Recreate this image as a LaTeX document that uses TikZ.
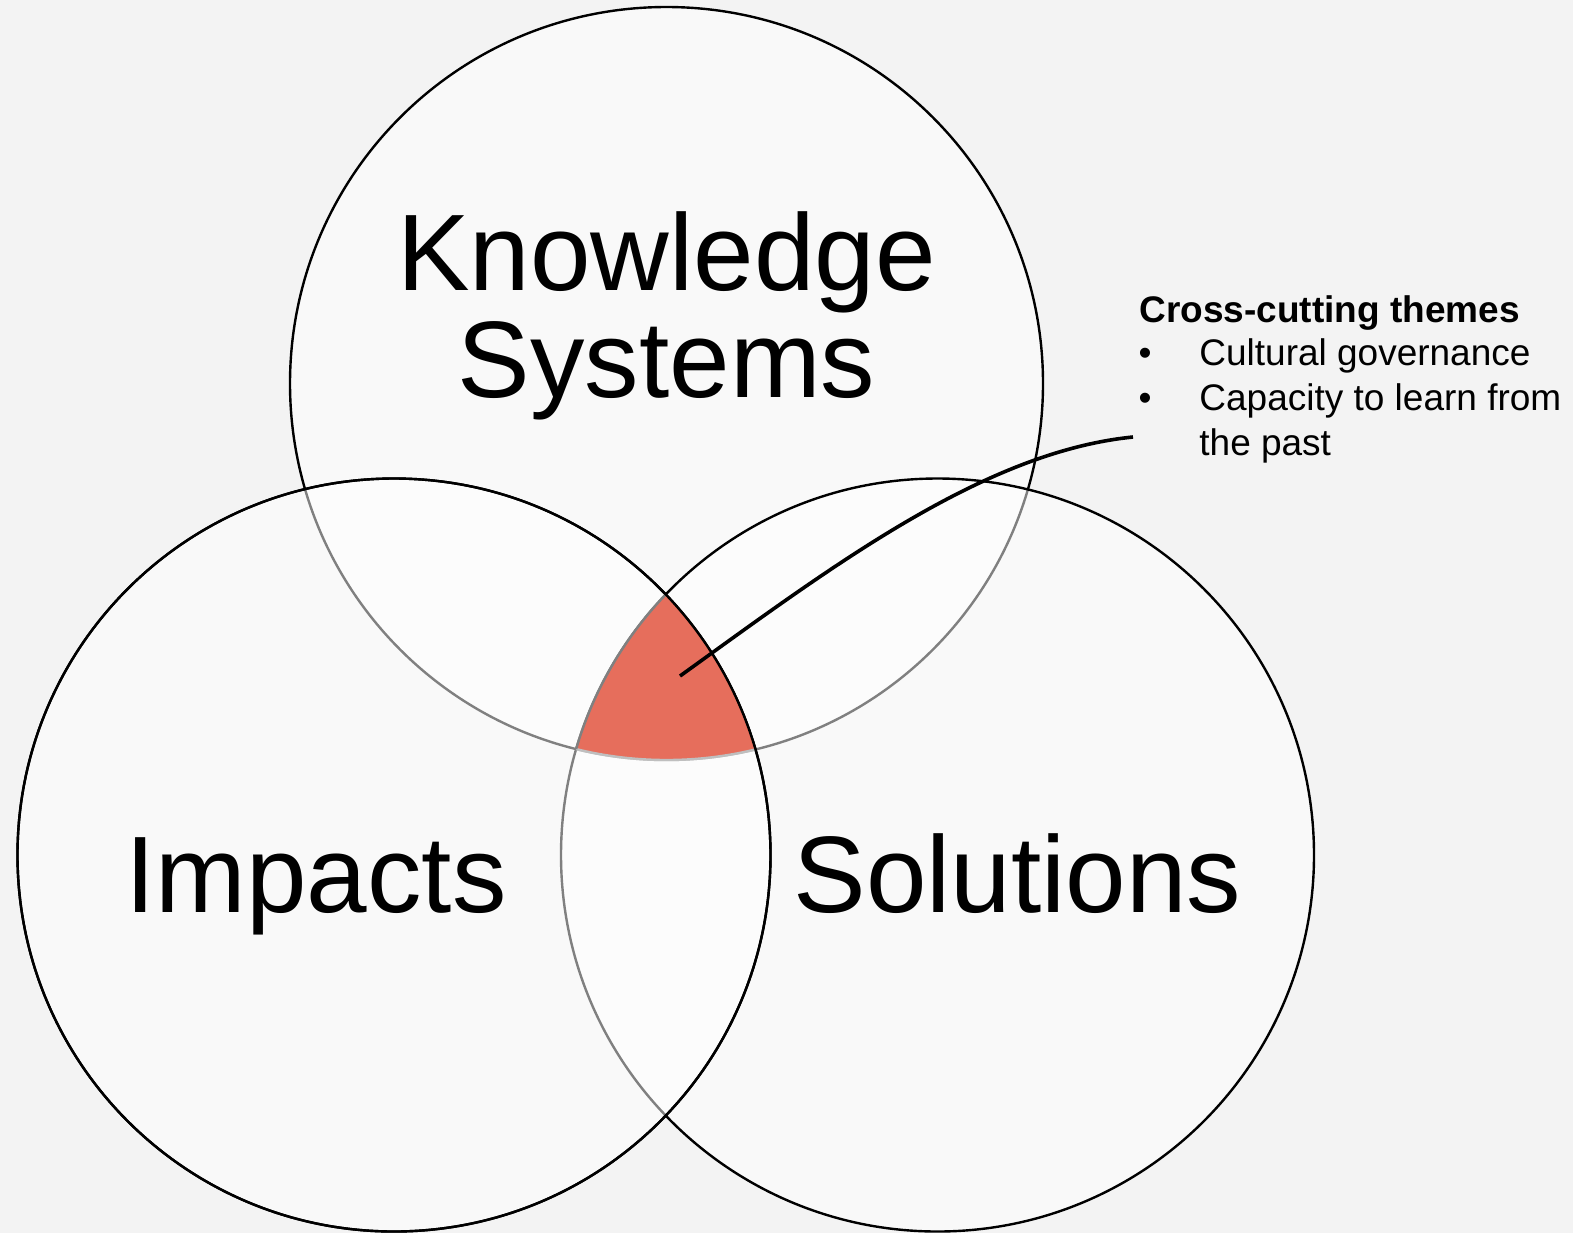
\documentclass[tikz,border=0pt]{standalone}
\usepackage{fontspec}
\setmainfont{Liberation Sans}
\definecolor{bg}{RGB}{243,243,243}
\definecolor{core}{RGB}{230,110,92}
\definecolor{greyA}{RGB}{128,128,128}
\definecolor{greyB}{RGB}{191,191,191}
\begin{document}
\begin{tikzpicture}[x=0.5pt,y=-0.5pt,
  venn/.style={draw=black,line width=1.2pt,fill=white,fill opacity=0.5},
  outline/.style={line width=1.2pt},
  bigtxt/.style={inner sep=0pt,font=\fontsize{54.4}{53.5}\selectfont,align=center},
  smalltxt/.style={inner sep=0pt,font=\fontsize{18.5}{22.5}\selectfont,align=left},
  callout/.style={draw=black,line width=1.8pt}]
\fill[bg] (0,0) rectangle (1573,1233);
\useasboundingbox (0,0) rectangle (1573,1233);
\def\rad{376.5}
\coordinate (cT) at (666.5,383.5);
\coordinate (cL) at (394,855);
\coordinate (cR) at (937.5,855);
% circles: top, right, left
\path[venn] (cT) circle[radius=\rad];
\path[venn] (cR) circle[radius=\rad];
\path[venn] (cL) circle[radius=\rad];
% common core
\begin{scope}
  \clip (cT) circle[radius=\rad];
  \clip (cL) circle[radius=\rad];
  \fill[core] (cR) circle[radius=\rad];
\end{scope}
\begin{scope}
  \clip (cL) circle[radius=\rad];
  \clip (cR) circle[radius=\rad];
  \draw[outline,greyB] (cT) circle[radius=\rad];
\end{scope}
\begin{scope}
  \clip (cT) circle[radius=\rad];
  \clip (cL) circle[radius=\rad];
  \draw[outline,greyA] (cR) circle[radius=\rad];
\end{scope}
\draw[outline] (cL) circle[radius=\rad];
% labels
\node[bigtxt,anchor=base] (ks) at (666.5,397) {Knowledge\\Systems};
\node[bigtxt,anchor=base] (imp) at (316,912) {Impacts};
\node[bigtxt,anchor=base] (sol) at (1017.5,912) {Solutions};
% cross-cutting themes
\node[smalltxt,anchor=base west] (head) at (1139,322) {\bfseries Cross-cutting themes};
\node[smalltxt,anchor=base] (b1) at (1145,365) {•};
\node[smalltxt,anchor=base west] (i1) at (1199,365) {Cultural governance};
\node[smalltxt,anchor=base] (b2) at (1145,410) {•};
\node[smalltxt,anchor=base west] (i2) at (1199,455) {Capacity to learn from\\the past};
% callout
\coordinate (dot) at (680,676);
\coordinate (tip) at (1133,437);
\draw[callout] (dot) .. controls +(150,-108) and +(-150,15) .. (tip);
\end{tikzpicture}
\end{document}
